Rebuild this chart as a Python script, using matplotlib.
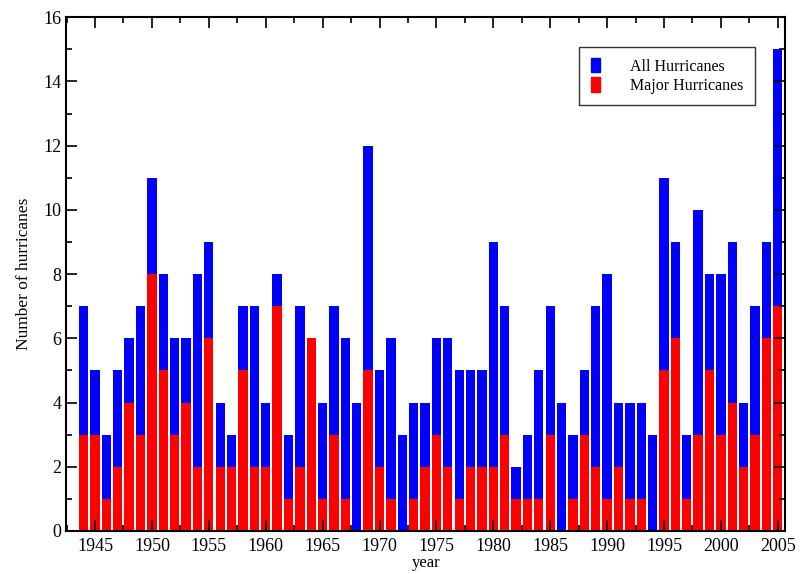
import matplotlib.pyplot as plt
from matplotlib.patches import Patch
from matplotlib.ticker import MultipleLocator

years = list(range(1944, 2006))
all_hurricanes = [7, 5, 3, 5, 6, 7, 11, 8, 6, 6, 8, 9, 4, 3, 7, 7, 4, 8, 3, 7,
                  6, 4, 7, 6, 4, 12, 5, 6, 3, 4, 4, 6, 6, 5, 5, 5, 9, 7, 2, 3,
                  5, 7, 4, 3, 5, 7, 8, 4, 4, 4, 3, 11, 9, 3, 10, 8, 8, 9, 4, 7,
                  9, 15]
major_hurricanes = [3, 3, 1, 2, 4, 3, 8, 5, 3, 4, 2, 6, 2, 2, 5, 2, 2, 7, 1, 2,
                    6, 1, 3, 1, 0, 5, 2, 1, 0, 1, 2, 3, 2, 1, 2, 2, 2, 3, 1, 1,
                    1, 3, 0, 1, 3, 2, 1, 2, 1, 1, 0, 5, 6, 1, 3, 5, 3, 4, 2, 3,
                    6, 7]

plt.rcParams['font.family'] = ['Liberation Serif', 'DejaVu Serif']

fig = plt.figure(figsize=(8, 5.74), dpi=100)
ax = fig.add_axes([0.0825, 0.075, 0.899, 0.895])

ax.bar(years, all_hurricanes, width=0.82, color='#0000ff')
ax.bar(years, major_hurricanes, width=0.82, color='#ff0000')

ax.set_xlim(1942.45, 2005.65)
ax.set_ylim(0, 16)
ax.xaxis.set_major_locator(MultipleLocator(5))
ax.xaxis.set_minor_locator(MultipleLocator(2.5))
ax.yaxis.set_major_locator(MultipleLocator(2))
ax.yaxis.set_minor_locator(MultipleLocator(1))
ax.tick_params(which='both', direction='in', top=True, right=True, labelsize=13, width=1.2)
ax.tick_params(which='major', length=8)
ax.tick_params(which='minor', length=4)
ax.tick_params(axis='x', pad=5)
for s in ax.spines.values():
    s.set_linewidth(1.5)

ax.set_xlabel('year', fontsize=12, labelpad=0)
ax.set_ylabel('Number of hurricanes', fontsize=12.5, labelpad=8)

handles = [Patch(color='#0000ff', label='All Hurricanes'),
           Patch(color='#ff0000', label='Major Hurricanes')]
leg = ax.legend(handles=handles, loc='upper right', bbox_to_anchor=(0.958, 0.942),
                borderaxespad=0, fontsize=11.5, frameon=True, fancybox=False,
                edgecolor='black', handlelength=0.6, handleheight=1.0,
                handletextpad=1.9, borderpad=0.7, labelspacing=0.15)
leg.get_frame().set_linewidth(1.0)

fig.savefig('out.png', dpi=100)
